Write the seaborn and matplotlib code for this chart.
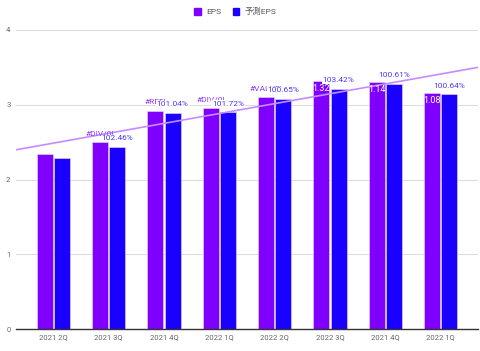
import numpy as np
import pandas as pd
import seaborn as sns
from matplotlib import pyplot as plt
from matplotlib.patches import Patch

# ========================================================
# data

quarters = ["2021 2Q", "2021 3Q", "2021 4Q", "2022 1Q", "2022 2Q", "2022 3Q", "2021 4Q", "2022 1Q"]
eps = [2.34, 2.50, 2.92, 2.95, 3.10, 3.32, 3.30, 3.16]
eps_forecast = [2.29, 2.44, 2.89, 2.90, 3.08, 3.21, 3.28, 3.14]
eps_labels = ["", "#DIV/0!", "#REF!", "#DIV/0!", "#VALUE!", "1.32", "1.14", "1.08"]
ratio_labels = ["", "102.46%", "101.04%", "101.72%", "100.65%", "103.42%", "100.61%", "100.64%"]
series_names = ["EPS", "予測EPS"]

purple = "#7f00ff"
blue = "#1a00ff"
trend_color = "#c58cff"

# ========================================================
sns.set_theme(style="white")
plt.rcParams["font.family"] = ["Roboto", "Noto Sans CJK JP", "DejaVu Sans"]

df = pd.DataFrame({
    "idx": list(range(len(quarters))) * 2,
    "series": [series_names[0]] * len(eps) + [series_names[1]] * len(eps_forecast),
    "value": eps + eps_forecast,
})

fig = plt.figure(figsize=(4.8, 3.51), dpi=100)
ax = fig.add_axes([16 / 480, 1 - 329 / 351, 462 / 480, 299 / 351])

sns.barplot(data=df, x="idx", y="value", hue="series", palette=[purple, blue],
            saturation=1, width=0.62, gap=0.06, ax=ax, legend=False,
            edgecolor="#e8dcff", linewidth=0.4, zorder=2)

ax.set_xlim(-0.675, len(quarters) - 1 + 0.675)
ax.set_ylim(0, 4)

# linear trendline over EPS
coef = np.polyfit(np.arange(len(eps)), eps, 1)
xs = np.array(ax.get_xlim())
ax.plot(xs, np.polyval(coef, xs), color=trend_color, lw=1.2, zorder=3)

# data labels
for bar, lab in zip(ax.containers[0], eps_labels):
    if not lab:
        continue
    cx = bar.get_x() + bar.get_width() / 2
    top = bar.get_height()
    if lab.startswith("#"):
        ax.annotate(lab, (cx, top), xytext=(0, 4), textcoords="offset points",
                    ha="center", va="bottom", fontsize=6, color="#9040ff", zorder=4)
    else:
        ax.annotate(lab, (cx, top), xytext=(0, -2), textcoords="offset points",
                    ha="center", va="top", fontsize=6.5, color="white", zorder=4)

for bar, lab in zip(ax.containers[1], ratio_labels):
    if not lab:
        continue
    cx = bar.get_x() + bar.get_width() / 2
    ax.annotate(lab, (cx, bar.get_height()), xytext=(0, 4), textcoords="offset points",
                ha="center", va="bottom", fontsize=6, color="#4a3aff", zorder=5,
                bbox=dict(facecolor="white", edgecolor="none", pad=0.3))

# axes styling
ax.set_xticks(range(len(quarters)))
ax.set_xticklabels(quarters)
ax.set_yticks([0, 1, 2, 3, 4])
ax.set_xlabel("")
ax.set_ylabel("")
ax.tick_params(axis="both", length=0, labelsize=5.5, labelcolor="#666666")
ax.tick_params(axis="x", pad=4)
ax.tick_params(axis="y", pad=4)
ax.yaxis.grid(True, color="#dddddd", lw=0.8)
ax.set_axisbelow(True)
for s in ["top", "right", "left"]:
    ax.spines[s].set_visible(False)
ax.spines["bottom"].set_color("#333333")
ax.spines["bottom"].set_linewidth(1)

handles = [Patch(color=purple), Patch(color=blue)]
fig.legend(handles, series_names, loc="center", bbox_to_anchor=(0.49, 0.968), ncol=2,
           frameon=False, fontsize=6, handlelength=0.8, handleheight=0.8,
           columnspacing=1.4, handletextpad=0.6, labelcolor="#555555")

fig.savefig("out.png", dpi=100)
